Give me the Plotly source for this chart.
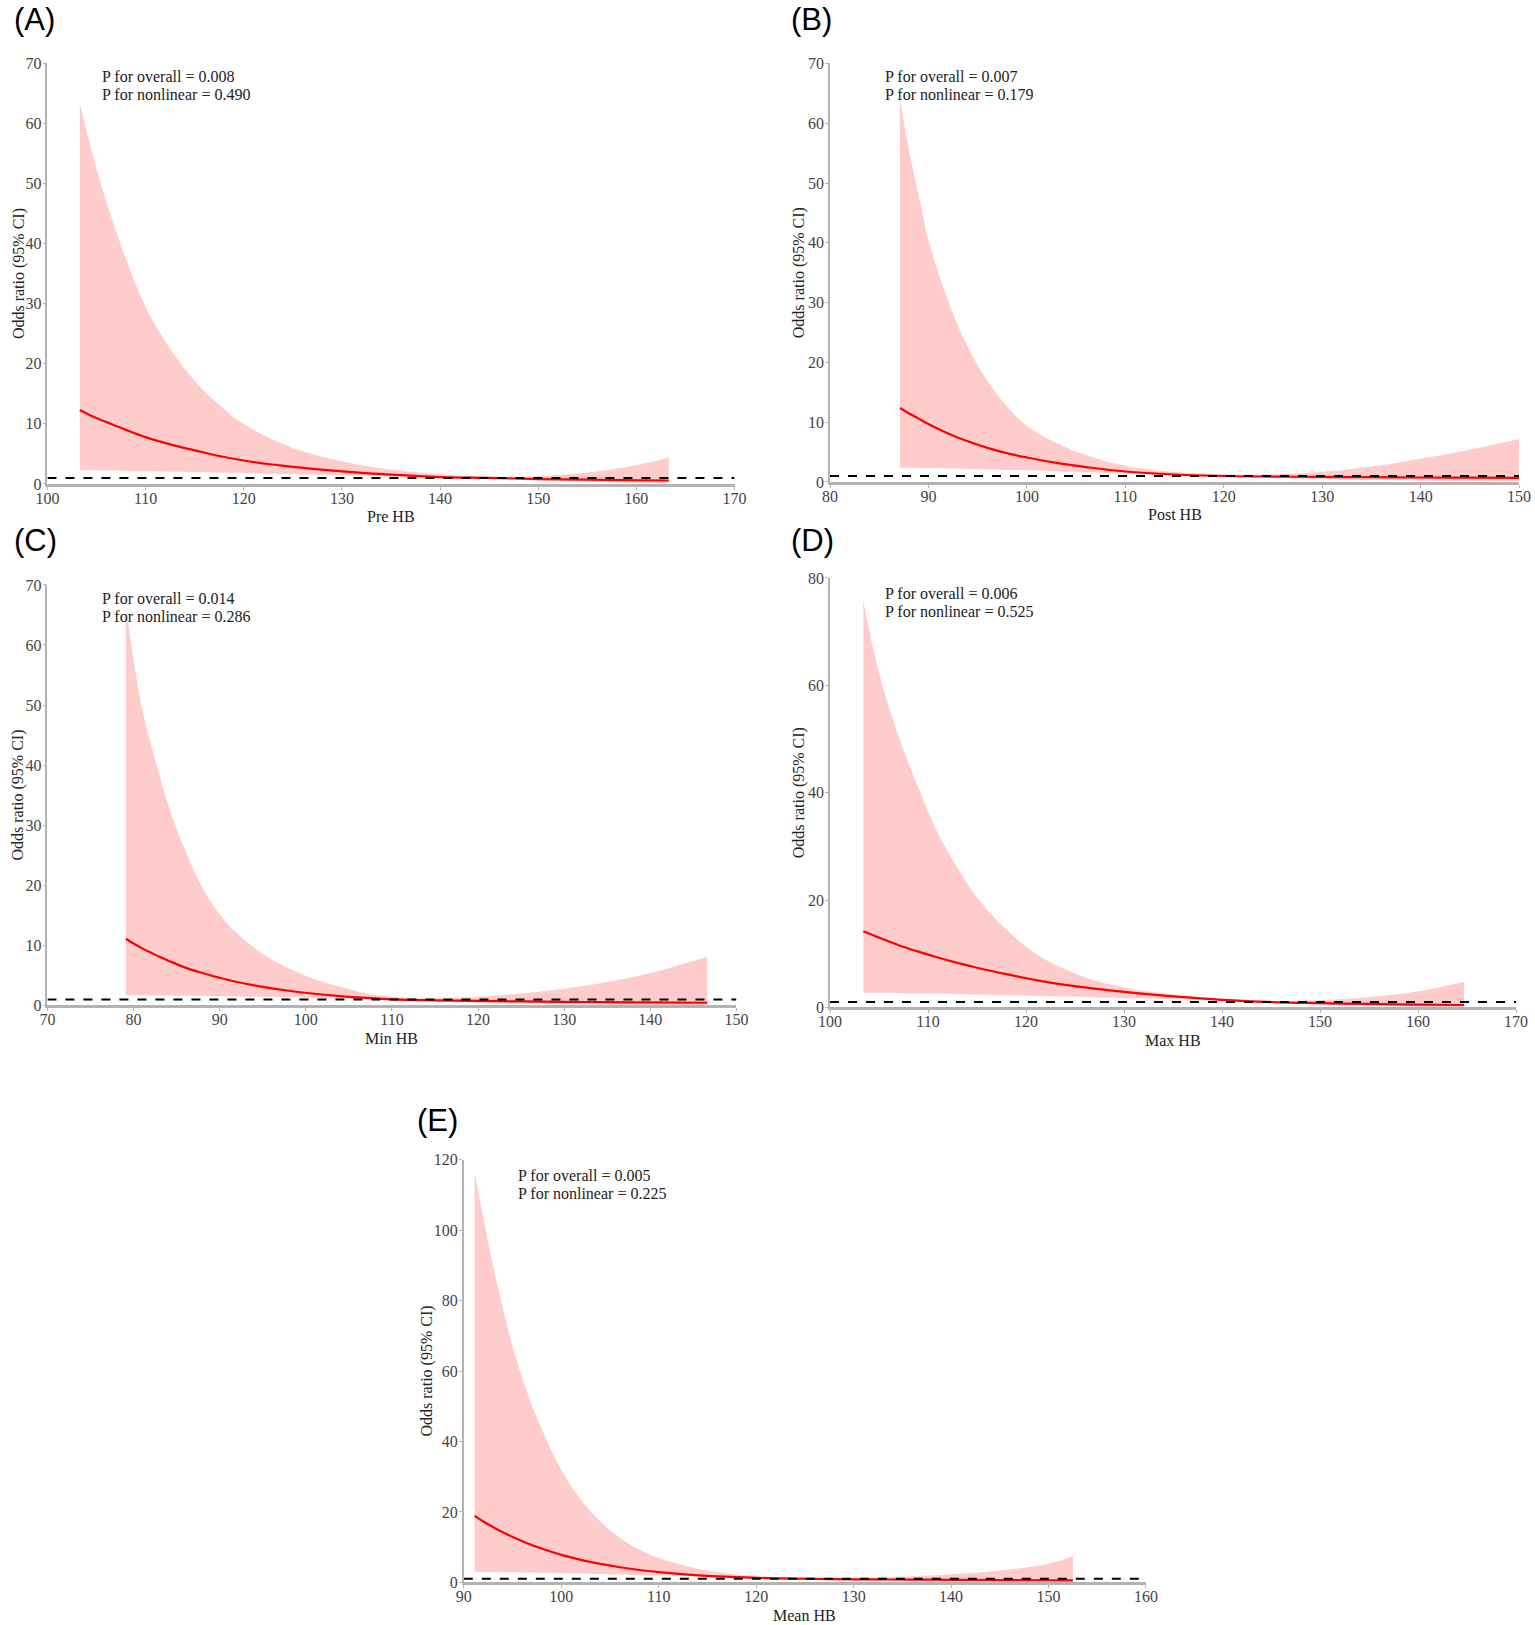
import plotly.graph_objects as go

W, H = 1535, 1625

# (A) Pre HB
pre_x = [103.3, 104.5, 106, 108, 110, 112.5, 115, 117.5, 120, 125, 130, 135, 140, 145, 150, 155, 160, 163.3]
pre_or = [12.3, 11.3, 10.3, 9.0, 7.8, 6.6, 5.6, 4.65, 3.9, 2.85, 2.1, 1.55, 1.15, 1.0, 0.82, 0.71, 0.62, 0.58]
pre_lo = [2.3, 2.27, 2.23, 2.17, 2.1, 2.02, 1.95, 1.87, 1.8, 1.62, 1.45, 1.28, 1.1, 0.95, 0.6, 0.35, 0.18, 0.12]
pre_hi = [63.3, 55.5, 47, 37.5, 29.5, 22.5, 17.2, 13.2, 10, 6.0, 3.8, 2.4, 1.6, 1.15, 1.3, 1.9, 3.1, 4.4]

# (B) Post HB
post_x = [87.1, 88, 89, 90, 92, 94, 96, 98, 100, 103, 106, 110, 115, 120, 125, 130, 135, 140, 145, 150]
post_or = [12.4, 11.5, 10.6, 9.7, 8.1, 6.8, 5.7, 4.8, 4.1, 3.2, 2.5, 1.75, 1.25, 1.0, 0.9, 0.85, 0.8, 0.75, 0.72, 0.7]
post_lo = [2.4, 2.38, 2.35, 2.32, 2.25, 2.18, 2.1, 2.02, 1.95, 1.8, 1.62, 1.4, 1.15, 0.95, 0.65, 0.45, 0.32, 0.22, 0.16, 0.12]
post_hi = [64.2, 55.6, 48, 40.5, 30.3, 22.6, 16.9, 12.6, 9.4, 6.5, 4.5, 2.7, 1.65, 1.3, 1.3, 1.7, 2.6, 3.9, 5.4, 7.2]

# (C) Min HB
min_x = [79.1, 80, 81, 82, 83, 84, 86, 88, 90, 92, 95, 98, 101, 104, 107, 110, 115, 120, 125, 130, 135, 140, 146.6]
min_or = [11.1, 10.3, 9.5, 8.8, 8.1, 7.5, 6.3, 5.4, 4.6, 3.9, 3.1, 2.45, 1.95, 1.55, 1.25, 1.02, 0.85, 0.75, 0.67, 0.6, 0.55, 0.5, 0.45]
min_lo = [1.7, 1.69, 1.68, 1.67, 1.66, 1.65, 1.62, 1.58, 1.55, 1.5, 1.43, 1.35, 1.25, 1.15, 1.05, 0.95, 0.7, 0.45, 0.3, 0.2, 0.13, 0.09, 0.06]
min_hi = [66.5, 57.5, 49.4, 43.5, 38.5, 33.5, 25.8, 19.6, 15.2, 12.0, 8.6, 6.2, 4.4, 3.1, 2.0, 1.45, 1.15, 1.4, 2.0, 2.8, 3.9, 5.4, 8.1]

# (D) Max HB
max_x = [103.4, 105, 107, 109, 111, 113, 115, 118, 121, 124, 127, 131, 135, 140, 145, 150, 155, 160, 164.7]
max_or = [14.2, 13.0, 11.6, 10.4, 9.3, 8.3, 7.4, 6.2, 5.1, 4.2, 3.5, 2.7, 2.05, 1.4, 1.0, 0.8, 0.65, 0.52, 0.45]
max_lo = [2.75, 2.72, 2.66, 2.6, 2.53, 2.46, 2.38, 2.27, 2.15, 2.02, 1.9, 1.72, 1.55, 1.25, 0.85, 0.5, 0.3, 0.18, 0.12]
max_hi = [75.7, 62.3, 50.5, 41, 32.5, 26, 20.5, 14.5, 10, 7.1, 5.0, 3.4, 2.4, 1.6, 1.2, 1.4, 1.9, 3.0, 4.8]

# (E) Mean HB
mean_x = [91.1, 92, 93, 94, 95, 96.5, 98, 100, 102, 104, 106, 108, 110, 113, 116, 120, 124, 128, 132, 136, 140, 145, 150, 152.5]
mean_or = [18.9, 17.3, 15.7, 14.2, 12.9, 11.1, 9.6, 7.8, 6.4, 5.25, 4.3, 3.5, 2.9, 2.2, 1.7, 1.3, 1.05, 0.92, 0.84, 0.78, 0.72, 0.66, 0.6, 0.58]
mean_lo = [3.0, 2.97, 2.93, 2.9, 2.85, 2.78, 2.7, 2.6, 2.5, 2.35, 2.2, 2.05, 1.95, 1.75, 1.55, 1.25, 1.0, 0.75, 0.5, 0.32, 0.22, 0.13, 0.08, 0.07]
mean_hi = [116.5, 103.5, 90, 78, 67, 54, 43.5, 32, 23.5, 17.3, 12.7, 9.3, 6.9, 4.5, 2.9, 1.75, 1.3, 1.2, 1.35, 1.75, 2.3, 3.4, 5.3, 7.5]

labels = ["(A)", "(B)", "(C)", "(D)", "(E)"]
x_titles = ["Pre HB", "Post HB", "Min HB", "Max HB", "Mean HB"]
p_overall = ["0.008", "0.007", "0.014", "0.006", "0.005"]
p_nonlinear = ["0.490", "0.179", "0.286", "0.525", "0.225"]
x_ranges = [[100, 170], [80, 150], [70, 150], [100, 170], [90, 160]]
y_ranges = [[0, 70], [0, 70], [0, 70], [0, 80], [0, 120]]
y_dticks = [10, 10, 10, 20, 20]

series = [
    (pre_x, pre_or, pre_lo, pre_hi),
    (post_x, post_or, post_lo, post_hi),
    (min_x, min_or, min_lo, min_hi),
    (max_x, max_or, max_lo, max_hi),
    (mean_x, mean_or, mean_lo, mean_hi),
]

# plot boxes in pixels: left, right, top, bottom
boxes = [
    (36, 734, 56, 481),
    (831, 1531, 56, 479),
    (36, 736, 583, 1008),
    (831, 1528, 576, 1010),
    (459, 1152, 1164, 1591),
]
label_pos = [(0, 12), (789, 12), (0, 538), (789, 538), (409, 1124)]
ytitle_x = [6.5, 799, 6.5, 799, 422]
p_top = [13.7, 13.7, 13.7, 15.8, 15.8]

SERIF = "Liberation Serif"
axis_grey = "#b3b3b3"
fill_col = "#ffcccc"

fig = go.Figure()
annotations = []
layout = {}


def px(x):
    return x / W


def py(y):
    return 1 - y / H


for i, (xs, ors, los, his) in enumerate(series):
    n = i + 1
    xa = "x" if n == 1 else f"x{n}"
    ya = "y" if n == 1 else f"y{n}"
    l, r, t, b = boxes[i]

    fig.add_trace(go.Scatter(x=xs, y=los, mode="lines", line=dict(width=0, shape="spline", smoothing=1.1),
                             xaxis=xa, yaxis=ya, showlegend=False, hoverinfo="skip"))
    fig.add_trace(go.Scatter(x=xs, y=his, mode="lines", line=dict(width=0, shape="spline", smoothing=1.1),
                             fill="tonexty", fillcolor=fill_col,
                             xaxis=xa, yaxis=ya, showlegend=False, hoverinfo="skip"))
    fig.add_trace(go.Scatter(x=xs, y=ors, mode="lines",
                             line=dict(color="#ff0000", width=2.2, shape="spline", smoothing=1.1),
                             xaxis=xa, yaxis=ya, showlegend=False))
    # reference line OR = 1
    fig.add_trace(go.Scatter(x=x_ranges[i], y=[1, 1], mode="lines",
                             line=dict(color="black", width=2, dash="dash"),
                             xaxis=xa, yaxis=ya, showlegend=False, cliponaxis=False))

    tick_font = dict(family=SERIF, size=16, color="#444444")
    layout["xaxis" if n == 1 else f"xaxis{n}"] = dict(
        domain=[px(l), px(r)], anchor=ya, range=x_ranges[i], dtick=10,
        showline=True, linecolor=axis_grey, linewidth=2.5,
        ticks="outside", ticklen=3, tickcolor=axis_grey, tickwidth=1,
        ticklabelstandoff=-5,
        showgrid=False, zeroline=False, tickfont=tick_font,
    )
    layout["yaxis" if n == 1 else f"yaxis{n}"] = dict(
        domain=[py(b), py(t)], anchor=xa, range=y_ranges[i], dtick=y_dticks[i],
        showline=True, linecolor=axis_grey, linewidth=1.5,
        ticks="outside", ticklen=3, tickcolor=axis_grey, tickwidth=1,
        ticklabelstandoff=-2,
        showgrid=False, zeroline=False, tickfont=tick_font,
    )

    # panel tag
    annotations.append(dict(text=labels[i], xref="paper", yref="paper",
                            x=px(label_pos[i][0]), y=py(label_pos[i][1]),
                            xanchor="left", yanchor="middle", showarrow=False,
                            font=dict(family="Liberation Sans", size=31, color="black")))
    # axis titles
    annotations.append(dict(text="Odds ratio (95% CI)", xref="paper", yref="paper",
                            x=px(ytitle_x[i]), y=py((t + b) / 2), textangle=-90,
                            xanchor="center", yanchor="middle", showarrow=False,
                            font=dict(family=SERIF, size=16, color="#222222")))
    annotations.append(dict(text=x_titles[i], xref="paper", yref="paper",
                            x=px((l + r) / 2), y=py(b + 33),
                            xanchor="center", yanchor="middle", showarrow=False,
                            font=dict(family=SERIF, size=16, color="#222222")))
    # p values
    tx = l + 0.077 * (r - l)
    annotations.append(dict(text=f"P for overall = {p_overall[i]}", xref="paper", yref="paper",
                            x=px(tx), y=py(t + p_top[i]), xanchor="left", yanchor="middle", showarrow=False,
                            font=dict(family=SERIF, size=16, color="#222222")))
    annotations.append(dict(text=f"P for nonlinear = {p_nonlinear[i]}", xref="paper", yref="paper",
                            x=px(tx), y=py(t + p_top[i] + 17.9), xanchor="left", yanchor="middle", showarrow=False,
                            font=dict(family=SERIF, size=16, color="#222222")))

fig.update_layout(**layout)
fig.update_layout(
    width=W, height=H,
    margin=dict(l=0, r=0, t=0, b=0),
    paper_bgcolor="white", plot_bgcolor="white",
    annotations=annotations,
    showlegend=False,
)

fig.write_html("out.html", config={"displayModeBar": False},
               post_script="document.body.style.margin='0';document.body.style.overflow='hidden';")
